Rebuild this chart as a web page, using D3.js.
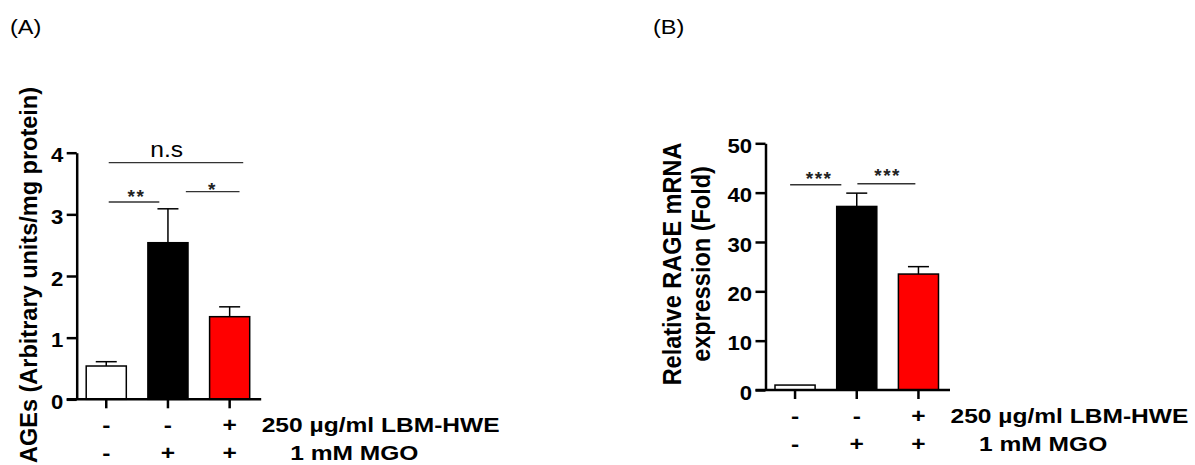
<!DOCTYPE html>
<html>
<head>
<meta charset="utf-8">
<script src="https://cdn.jsdelivr.net/npm/d3@7"></script>
<style>
  body { margin: 0; background: #fff; }
  svg text { font-family: "Liberation Sans", Arial, sans-serif; fill: #000; }
</style>
</head>
<body>
<div class="wrapper"></div>
<script>
const groups = ['Control', 'MGO', 'MGO + LBM-HWE']
const lbmRow = ['-', '-', '+']
const mgoRow = ['-', '+', '+']
const rowLabels = ['250 \u00b5g/ml LBM-HWE', '1 mM MGO']
const barColors = ['#ffffff', '#000000', '#ff0000']

// (A) AGEs
const agesMean = [0.54, 2.54, 1.34]
const agesErr = [0.07, 0.55, 0.16]
const agesTicks = [0, 1, 2, 3, 4]
// from/to/tx in group index units, at/ly in data units
const agesSig = [
  { from: 0.04, to: 2.22, at: 3.84, label: 'n.s', tx: 0.98, ly: 3.93 },
  { from: 0.04, to: 0.86, at: 3.20, label: '**', tx: 0.49, ly: 3.18 },
  { from: 1.29, to: 2.16, at: 3.37, label: '*', tx: 1.72, ly: 3.29 },
]

// (B) RAGE mRNA
const rageMean = [1.0, 37.2, 23.5]
const rageErr = [0, 2.7, 1.5]
const rageTicks = [0, 10, 20, 30, 40, 50]
const rageSig = [
  { from: -0.08, to: 0.75, at: 41.6, label: '***', tx: 0.39, ly: 41.45 },
  { from: 1.01, to: 1.95, at: 41.8, label: '***', tx: 1.50, ly: 42.2 },
]

const width = 1195, height = 465

const svg = d3.select('.wrapper')
  .append('svg')
  .attr('width', width)
  .attr('height', height)

function label(g, x, y, str, size, weight, anchor, sx) {
  return g.append('text')
    .attr('transform', `translate(${x},${y}) scale(${sx},1)`)
    .attr('text-anchor', anchor)
    .style('font-size', size + 'px')
    .style('font-weight', weight)
    .text(str)
}

function drawPanel(p) {
  const g = svg.append('g')

  const y = d3.scaleLinear()
    .domain([0, p.ticks[p.ticks.length - 1]])
    .range([p.bottom, p.top])

  const x = d3.scaleBand()
    .domain(groups)
    .range([p.axisX + 9.5, p.axisX + 173])
    .paddingInner(0.35)

  const bw = x.bandwidth()
  const gx = d3.scaleLinear()
    .domain([0, 2])
    .range([x(groups[0]) + bw / 2, x(groups[2]) + bw / 2])

  // bars
  g.selectAll('.bar')
    .data(p.mean)
    .enter().append('rect')
    .attr('class', 'bar')
    .attr('x', (d, i) => x(groups[i]))
    .attr('y', d => y(d))
    .attr('width', bw)
    .attr('height', d => y(0) - y(d))
    .style('fill', (d, i) => barColors[i])
    .style('stroke', '#000')
    .style('stroke-width', 1.5)

  // error bars (upper only)
  const err = g.selectAll('.err')
    .data(p.mean.map((m, i) => ({ m, e: p.err[i], i })).filter(d => d.e > 0))
    .enter().append('g')
    .attr('class', 'err')
    .style('stroke', '#000')
    .style('stroke-width', 1.5)

  err.append('line')
    .attr('x1', d => gx(d.i)).attr('x2', d => gx(d.i))
    .attr('y1', d => y(d.m)).attr('y2', d => y(d.m + d.e))
  err.append('line')
    .attr('x1', d => gx(d.i) - 10.5).attr('x2', d => gx(d.i) + 10.5)
    .attr('y1', d => y(d.m + d.e)).attr('y2', d => y(d.m + d.e))

  // y axis
  const yAxis = g.append('g')
    .attr('transform', `translate(${p.axisX},0)`)
    .call(d3.axisLeft(y).tickValues(p.ticks).tickFormat(d3.format('d'))
      .tickSize(10).tickSizeOuter(0).tickPadding(2.5))
  yAxis.selectAll('path, line').style('stroke', '#000').style('stroke-width', 2.5)
  yAxis.selectAll('text')
    .attr('dy', '0.45em')
    .attr('transform', 'scale(1.08,1)')
    .style('font-size', '20.5px')
    .style('font-weight', 'bold')
    .style('font-family', '"Liberation Sans", Arial, sans-serif')

  // x axis
  const y0 = y(0)
  g.append('line')
    .attr('x1', p.axisX - 10).attr('x2', p.axisX + 184.5)
    .attr('y1', y0).attr('y2', y0)
    .style('stroke', '#000').style('stroke-width', 2.5)

  const xAxis = g.append('g')
    .attr('transform', `translate(0,${y0})`)
    .call(d3.axisBottom(x).tickSize(9).tickSizeOuter(0).tickFormat(''))
  xAxis.select('.domain').remove()
  xAxis.selectAll('line').style('stroke', '#000').style('stroke-width', 2.5)

  // condition rows
  groups.forEach((grp, i) => {
    label(g, gx(i), y0 + p.row1, lbmRow[i], 21, 'bold', 'middle', 1.17)
    label(g, gx(i), y0 + p.row2, mgoRow[i], 21, 'bold', 'middle', 1.17)
  })
  label(g, p.axisX + 185, y0 + p.row1, rowLabels[0], 21, 'bold', 'start', 1.17)
  label(g, p.axisX + 213.5, y0 + p.row2, rowLabels[1], 21, 'bold', 'start', 1.17)

  // significance brackets
  p.sig.forEach(s => {
    g.append('line')
      .attr('x1', gx(s.from)).attr('x2', gx(s.to))
      .attr('y1', y(s.at)).attr('y2', y(s.at))
      .style('stroke', '#333').style('stroke-width', 1.3)
    if (s.label === 'n.s') {
      label(g, gx(s.tx), y(s.ly), s.label, 22, 'normal', 'middle', 1.12)
    } else {
      g.append('text')
        .attr('x', gx(s.tx))
        .attr('y', y(s.ly))
        .attr('text-anchor', 'middle')
        .style('font-size', '19px')
        .style('font-weight', 'bold')
        .style('letter-spacing', '1.5px')
        .style('fill', '#222')
        .text(s.label)
    }
  })

  // panel letter
  label(g, p.letterX, 33.5, p.letter, 21, 'normal', 'start', 1.12)

  // y label
  p.ylabel.forEach((t, k) => {
    g.append('text')
      .attr('transform', `translate(${p.ylabelX[k]},${p.ylabelY}) scale(${p.ylabelSx},1) rotate(-90)`)
      .attr('text-anchor', p.ylabelAnchor)
      .style('font-size', '23.5px')
      .style('font-weight', 'bold')
      .text(t)
  })
}

drawPanel({
  letter: '(A)', letterX: 10,
  axisX: 76.7, top: 152.7, bottom: 399.3,
  ticks: agesTicks, mean: agesMean, err: agesErr, sig: agesSig,
  row1: 33, row2: 60.5,
  ylabel: ['AGEs (Arbitrary units/mg protein)'], ylabelX: [37], ylabelY: 463,
  ylabelAnchor: 'start', ylabelSx: 1,
})

drawPanel({
  letter: '(B)', letterX: 653,
  axisX: 765.5, top: 143.3, bottom: 390,
  ticks: rageTicks, mean: rageMean, err: rageErr, sig: rageSig,
  row1: 33, row2: 60.5,
  ylabel: ['Relative RAGE mRNA', 'expression (Fold)'], ylabelX: [681, 710], ylabelY: 264,
  ylabelAnchor: 'middle', ylabelSx: 1.1,
})
</script>
</body>
</html>
